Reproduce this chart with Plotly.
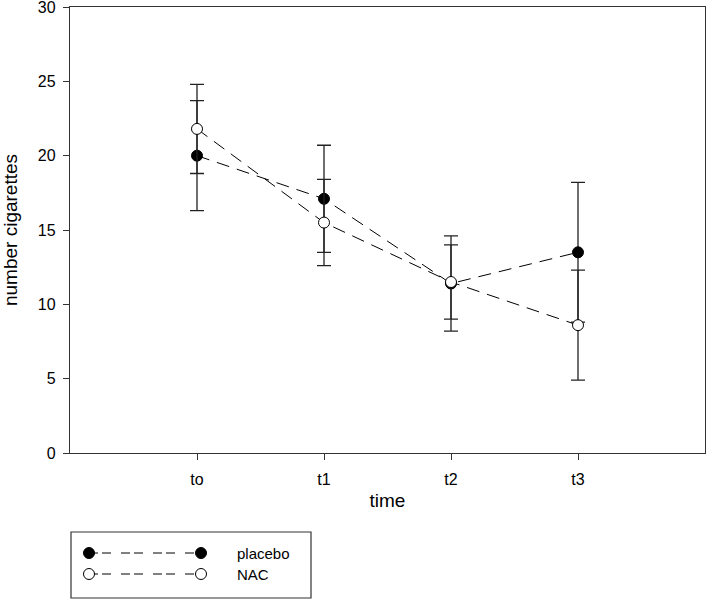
import plotly.graph_objects as go

time_labels = ["to", "t1", "t2", "t3"]
placebo_mean = [20.0, 17.1, 11.4, 13.5]
placebo_err = [3.7, 3.6, 3.2, 4.7]
nac_mean = [21.8, 15.5, 11.5, 8.6]
nac_err = [3.0, 2.9, 2.5, 3.7]
series_names = ["placebo", "NAC"]
series_fill = ["black", "white"]

FONT = "Arial, Liberation Sans, sans-serif"
W, H = 708, 600
ML, MR, MT, MB = 70, 3, 7, 147
PW, PH = W - ML - MR, H - MT - MB
DASH = "13px,8px"
LEG_DASH = "9px,4px,9px,10px"


def px_x(px):
    return (px - ML) / PW


def px_y(py):
    return (H - MB - py) / PH


fig = go.Figure()
for name, mean, err, fill in zip(series_names, [placebo_mean, nac_mean],
                                 [placebo_err, nac_err], series_fill):
    fig.add_trace(go.Scatter(
        x=time_labels, y=mean, name=name, mode="lines+markers",
        line=dict(color="black", width=1, dash=DASH),
        marker=dict(size=11, color=fill, line=dict(color="black", width=1)),
        error_y=dict(type="data", array=err, visible=True,
                     color="#222", thickness=1.3, width=7),
        showlegend=False,
    ))

# legend box drawn as in the original figure
shapes = [dict(type="rect", xref="paper", yref="paper",
               x0=px_x(71), x1=px_x(311), y0=px_y(532), y1=px_y(598),
               line=dict(color="#333", width=1.2), fillcolor="white", layer="above")]
annotations = []
for i, (name, fill) in enumerate(zip(series_names, series_fill)):
    yy = px_y(553 + 21 * i)
    shapes.append(dict(type="line", xref="paper", yref="paper",
                       x0=px_x(89), x1=px_x(201), y0=yy, y1=yy,
                       line=dict(color="black", width=1, dash=LEG_DASH)))
    for xp in (89, 201):
        shapes.append(dict(type="circle", xref="paper", yref="paper",
                           xsizemode="pixel", ysizemode="pixel",
                           xanchor=px_x(xp), yanchor=yy,
                           x0=-5.5, x1=5.5, y0=-5.5, y1=5.5,
                           fillcolor=fill, line=dict(color="black", width=1)))
    annotations.append(dict(text=name, xref="paper", yref="paper",
                            x=px_x(235), y=yy, xanchor="left", yanchor="middle",
                            showarrow=False, font=dict(size=15, family=FONT, color="black")))

fig.update_layout(
    width=W, height=H,
    margin=dict(l=ML, r=MR, t=MT, b=MB, autoexpand=False),
    paper_bgcolor="white", plot_bgcolor="white",
    font=dict(family=FONT, color="black", size=16),
    showlegend=False,
    shapes=shapes, annotations=annotations,
    xaxis=dict(
        type="category", categoryorder="array", categoryarray=time_labels,
        range=[-1, 4], showgrid=False, zeroline=False,
        showline=True, linecolor="#333", linewidth=1.3, mirror=True,
        ticks="outside", ticklen=6, tickcolor="#333", tickwidth=1.3,
        tickfont=dict(size=16), ticklabelstandoff=6,
        title=dict(text="time", font=dict(size=19), standoff=6),
        automargin=False,
    ),
    yaxis=dict(
        range=[0, 30], tickvals=[0, 5, 10, 15, 20, 25, 30],
        showgrid=False, zeroline=False,
        showline=True, linecolor="#333", linewidth=1.3, mirror=True,
        ticks="outside", ticklen=6, tickcolor="#333", tickwidth=1.3,
        tickfont=dict(size=16), ticklabelstandoff=4, ticklabeloverflow="allow",
        title=dict(text="number cigarettes", font=dict(size=19), standoff=18),
        automargin=False,
    ),
)

fig.write_html("out.html", config={"responsive": False, "displayModeBar": False},
               post_script="document.body.style.margin='0';document.body.style.overflow='hidden';")
